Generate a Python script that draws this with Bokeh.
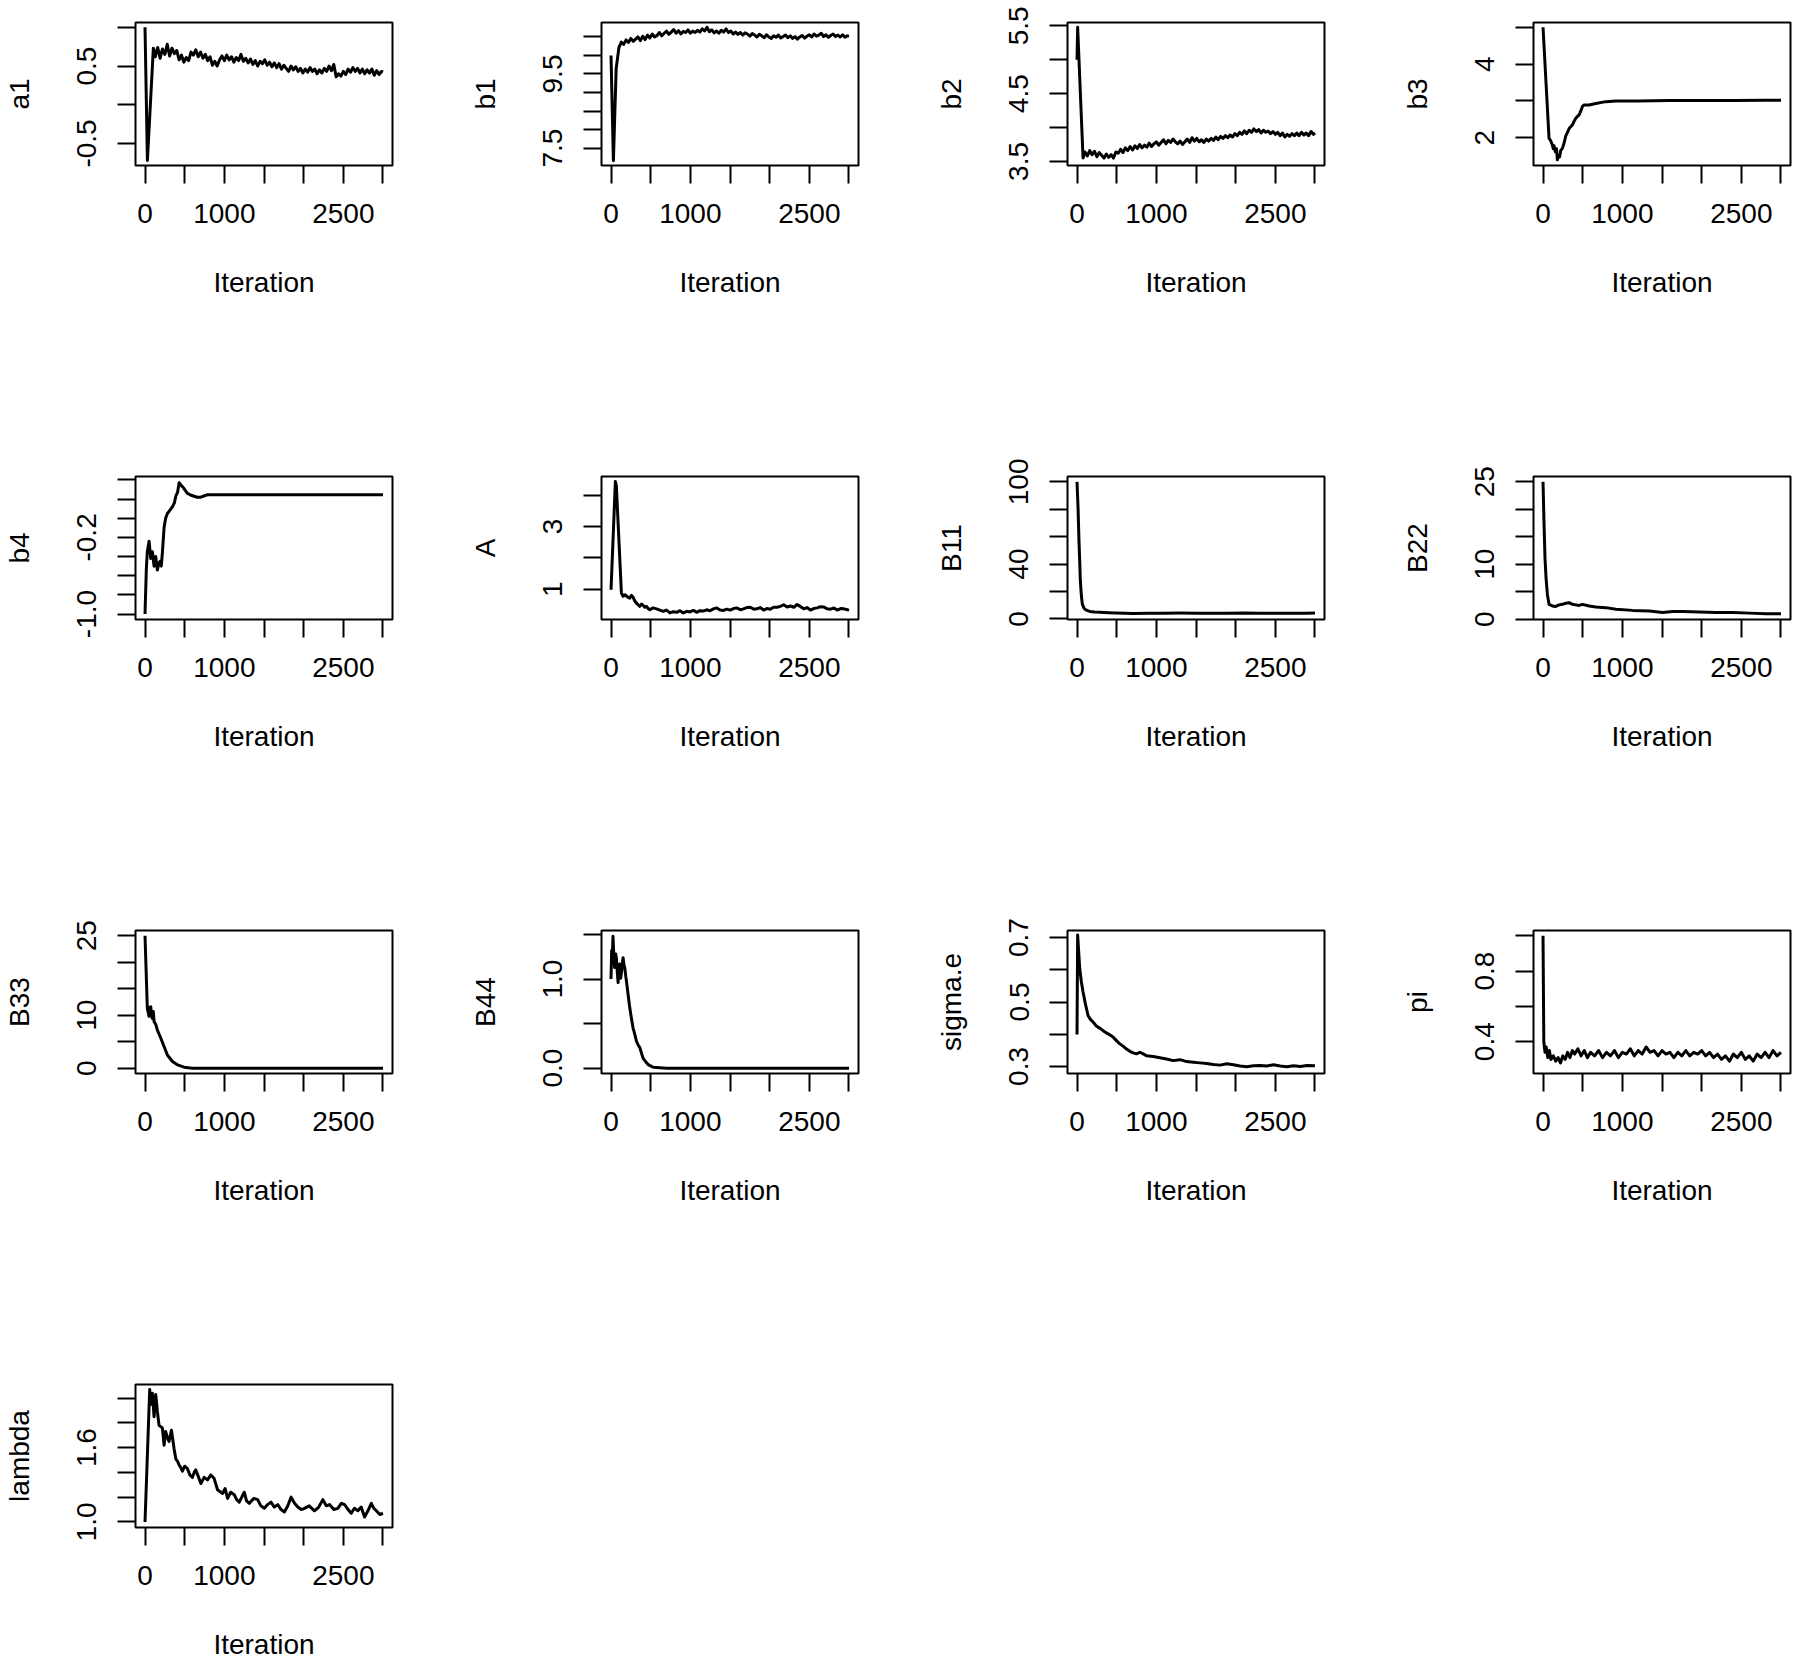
from bokeh.plotting import figure
from bokeh.layouts import column, row
from bokeh.models import Range1d, FixedTicker
from bokeh.embed import file_html
from bokeh.resources import INLINE

# ---------------- data ----------------
x_ticks = [0, 500, 1000, 1500, 2000, 2500, 3000]
x_tick_labels = ["0", "", "1000", "", "", "2500", ""]

# dense part of the noisy chains is sampled every 30 iterations
a1_iter = [0, 30, 105] + list(range(130, 2981, 30)) + [3000]
a1_val = [1.00, -0.72, 0.73,
          0.62, 0.74, 0.60, 0.72, 0.65, 0.78, 0.63, 0.73, 0.66, 0.70,
          0.58, 0.64, 0.55, 0.61, 0.57, 0.68, 0.64, 0.71, 0.62, 0.68,
          0.60, 0.65, 0.57, 0.62, 0.51, 0.56, 0.50, 0.58, 0.63, 0.57,
          0.64, 0.58, 0.62, 0.55, 0.61, 0.57, 0.65, 0.56, 0.60, 0.54,
          0.59, 0.52, 0.57, 0.50, 0.56, 0.53, 0.58, 0.51, 0.55, 0.49,
          0.54, 0.48, 0.53, 0.46, 0.51, 0.47, 0.43, 0.50, 0.45, 0.49,
          0.43, 0.47, 0.41, 0.46, 0.42, 0.48, 0.43, 0.46, 0.40, 0.45,
          0.41, 0.47, 0.43, 0.50, 0.44, 0.52, 0.36, 0.40, 0.37, 0.43,
          0.39, 0.46, 0.42, 0.48, 0.43, 0.47, 0.41, 0.46, 0.40, 0.45,
          0.41, 0.46, 0.38, 0.44, 0.39, 0.43,
          0.42]
a1_range = (-0.785, 1.062)
a1_ticks = [-0.5, 0.0, 0.5, 1.0]
a1_tick_labels = ["-0.5", "", "0.5", ""]

b1_iter = [0, 30, 65] + list(range(100, 2981, 30)) + [3000]
b1_val = [10.0, 7.16, 9.65,
          10.22, 10.36, 10.30, 10.42, 10.35, 10.46, 10.38, 10.44, 10.50, 10.40,
          10.52, 10.43, 10.55, 10.47, 10.58, 10.50, 10.54, 10.62, 10.53, 10.60,
          10.66, 10.57, 10.63, 10.70, 10.60, 10.67, 10.58, 10.65, 10.62, 10.69,
          10.60, 10.66, 10.62, 10.68, 10.63, 10.72, 10.66, 10.76, 10.64, 10.69,
          10.61, 10.66, 10.60, 10.68, 10.63, 10.72, 10.62, 10.66, 10.58, 10.63,
          10.57, 10.62, 10.55, 10.61, 10.58, 10.52, 10.59, 10.55, 10.50, 10.57,
          10.53, 10.48, 10.56, 10.50, 10.46, 10.53, 10.49, 10.55, 10.47, 10.51,
          10.55, 10.48, 10.53, 10.46, 10.51, 10.44, 10.50, 10.54, 10.47, 10.52,
          10.56, 10.50, 10.58, 10.52, 10.55, 10.60, 10.51, 10.56, 10.49, 10.54,
          10.58, 10.51, 10.55, 10.50, 10.56, 10.49, 10.53,
          10.52]
b1_range = (7.03, 10.89)
b1_ticks = [7.5, 8.0, 8.5, 9.0, 9.5, 10.0, 10.5]
b1_tick_labels = ["7.5", "", "", "", "9.5", "", ""]

b2_iter = [0, 8, 76] + list(range(100, 2981, 30)) + [3000]
b2_val = [5.00, 5.48, 3.55,
          3.64, 3.58, 3.66, 3.60, 3.65, 3.57, 3.63, 3.59, 3.55, 3.61,
          3.56, 3.60, 3.55, 3.64, 3.62, 3.68, 3.63, 3.70, 3.66, 3.72,
          3.67, 3.73, 3.69, 3.75, 3.70, 3.74, 3.71, 3.77, 3.72, 3.76,
          3.79, 3.74, 3.78, 3.82, 3.76, 3.81, 3.78, 3.83, 3.79, 3.76,
          3.80, 3.75, 3.79, 3.83, 3.78, 3.85, 3.80, 3.84, 3.79, 3.82,
          3.78, 3.83, 3.80, 3.84, 3.81, 3.86, 3.82, 3.87, 3.84, 3.88,
          3.85, 3.89, 3.86, 3.91, 3.88, 3.93, 3.90, 3.95, 3.91, 3.96,
          3.93, 3.98, 3.94, 3.97, 3.92, 3.96, 3.93, 3.95, 3.91, 3.94,
          3.90, 3.93, 3.88, 3.92, 3.86, 3.90, 3.87, 3.91, 3.88, 3.92,
          3.88, 3.93, 3.89, 3.92, 3.88, 3.94, 3.90,
          3.92]
b2_range = (3.44, 5.55)
b2_ticks = [3.5, 4.0, 4.5, 5.0, 5.5]
b2_tick_labels = ["3.5", "", "4.5", "", "5.5"]

b3_iter = [0, 76, 97, 118, 130, 139, 155, 170, 181, 195,
           210, 223, 244, 265, 287, 310, 329, 350, 371, 392,
           413, 435, 455, 475, 497, 518, 581, 666, 792, 919,
           1200, 1600, 2000, 2400, 2800, 3000]
b3_val = [5.0, 1.98, 1.92, 1.80, 1.70, 1.78, 1.62, 1.70, 1.40, 1.52,
          1.48, 1.65, 1.71, 1.85, 2.05, 2.15, 2.25, 2.30, 2.35, 2.45,
          2.53, 2.58, 2.62, 2.72, 2.85, 2.89, 2.89, 2.93, 2.98, 3.00,
          3.00, 3.01, 3.01, 3.01, 3.02, 3.02]
b3_range = (1.245, 5.13)
b3_ticks = [2, 3, 4, 5]
b3_tick_labels = ["2", "", "4", ""]

b4_iter = [0, 17, 29, 51, 72, 93, 114, 135, 156, 175,
           190, 205, 219, 240, 260, 282, 310, 346, 370, 388,
           410, 430, 450, 472, 500, 535, 580, 619, 660, 704,
           750, 788, 900, 1125, 1500, 2000, 2500, 3000]
b4_val = [-1.00, -0.52, -0.35, -0.24, -0.42, -0.35, -0.50, -0.40, -0.54, -0.47,
          -0.45, -0.50, -0.36, -0.10, 0.00, 0.05, 0.08, 0.12, 0.16, 0.23,
          0.27, 0.37, 0.35, 0.33, 0.30, 0.26, 0.24, 0.23, 0.22, 0.22,
          0.235, 0.245, 0.245, 0.245, 0.245, 0.245, 0.245, 0.245]
b4_range = (-1.057, 0.436)
b4_ticks = [-1.0, -0.8, -0.6, -0.4, -0.2, 0.0, 0.2, 0.4]
b4_tick_labels = ["-1.0", "", "", "", "-0.2", "", "", ""]

A_iter = [0, 55, 67, 131, 152, 175, 194, 215, 236, 258,
          278, 300, 321, 342, 363, 385, 405, 425, 447, 468,
          489, 530, 574, 615, 658, 700, 743, 785, 827, 870,
          911, 955, 996, 1040, 1080, 1120, 1164, 1205, 1249, 1290,
          1333, 1375, 1418, 1460, 1502, 1545, 1586, 1630, 1670, 1712,
          1755, 1800, 1839, 1880, 1924, 1965, 2008, 2050, 2092, 2135,
          2177, 2220, 2261, 2305, 2346, 2390, 2430, 2470, 2514, 2555,
          2599, 2640, 2683, 2725, 2768, 2810, 2852, 2895, 2936, 2970,
          3000]
A_val = [0.98, 4.43, 4.30, 0.87, 0.77, 0.82, 0.78, 0.74, 0.71, 0.80,
         0.74, 0.62, 0.55, 0.50, 0.45, 0.52, 0.48, 0.42, 0.45, 0.38,
         0.34, 0.40, 0.37, 0.33, 0.29, 0.33, 0.24, 0.28, 0.26, 0.31,
         0.24, 0.29, 0.27, 0.32, 0.26, 0.31, 0.30, 0.34, 0.31, 0.37,
         0.40, 0.33, 0.32, 0.36, 0.33, 0.38, 0.40, 0.34, 0.37, 0.41,
         0.42, 0.36, 0.37, 0.41, 0.33, 0.38, 0.36, 0.42, 0.42, 0.45,
         0.50, 0.43, 0.46, 0.42, 0.51, 0.44, 0.37, 0.41, 0.33, 0.38,
         0.40, 0.44, 0.43, 0.37, 0.36, 0.40, 0.33, 0.38, 0.37, 0.35,
         0.32]
A_range = (0.03, 4.59)
A_ticks = [1, 2, 3, 4]
A_tick_labels = ["1", "", "3", ""]

B11_iter = [0, 13, 25, 34, 42, 55, 67, 84, 97, 125,
            160, 220, 287, 400, 497, 600, 708, 900, 1100, 1300,
            1500, 1700, 1900, 2100, 2300, 2500, 2700, 2900, 3000]
B11_val = [100, 80.7, 56.6, 42.0, 27.7, 16.9, 10.8, 8.4, 7.2, 6.2,
           5.5, 5.0, 4.8, 4.5, 4.3, 4.1, 4.0, 4.1, 4.2, 4.3,
           4.2, 4.2, 4.1, 4.3, 4.2, 4.1, 4.2, 4.2, 4.3]
B11_range = (-0.4, 103.9)
B11_ticks = [0, 20, 40, 60, 80, 100]
B11_tick_labels = ["0", "", "40", "", "", "100"]

B22_iter = [0, 13, 25, 38, 55, 76, 118, 160, 202, 244,
            287, 329, 371, 413, 455, 497, 581, 666, 792, 919,
            1129, 1340, 1508, 1635, 1761, 1972, 2183, 2393, 2604, 2815,
            3000]
B22_val = [25.0, 17.2, 11.1, 7.5, 4.5, 2.7, 2.4, 2.3, 2.6, 2.7,
           2.9, 3.0, 2.7, 2.6, 2.5, 2.7, 2.4, 2.2, 2.1, 1.8,
           1.6, 1.5, 1.2, 1.4, 1.4, 1.3, 1.2, 1.2, 1.1, 1.0,
           1.0]
B22_range = (-0.06, 25.96)
B22_ticks = [0, 5, 10, 15, 20, 25]
B22_tick_labels = ["0", "", "10", "", "", "25"]

B33_iter = [0, 29, 42, 51, 63, 72, 84, 93, 105, 114,
            135, 156, 198, 240, 282, 346, 409, 493, 598, 1000,
            2000, 3000]
B33_val = [25.0, 11.3, 10.4, 9.8, 11.5, 11.6, 9.8, 9.4, 10.7, 8.8,
           8.3, 7.2, 5.7, 4.1, 2.5, 1.26, 0.63, 0.19, 0.0, 0.0,
           0.0, 0.0]
B33_range = (-1.0, 26.0)
B33_ticks = [0, 5, 10, 15, 20, 25]
B33_tick_labels = ["0", "", "10", "", "", "25"]

B44_iter = [0, 8, 17, 25, 38, 46, 59, 67, 80, 89,
            101, 110, 122, 131, 143, 152, 165, 173, 186, 194,
            215, 236, 257, 278, 300, 321, 342, 363, 384, 405,
            439, 468, 532, 700, 1500, 3000]
B44_val = [1.00, 1.32, 1.26, 1.48, 1.20, 1.13, 1.28, 1.24, 1.07, 0.96,
           1.13, 1.17, 1.01, 1.07, 1.18, 1.24, 1.15, 1.13, 1.03, 0.98,
           0.83, 0.68, 0.56, 0.45, 0.38, 0.30, 0.26, 0.23, 0.17, 0.11,
           0.07, 0.04, 0.01, 0.0, 0.0, 0.0]
B44_range = (-0.06, 1.545)
B44_ticks = [0.0, 0.5, 1.0, 1.5]
B44_tick_labels = ["0.0", "", "1.0", ""]

sig_iter = [0, 8, 21, 34, 55, 76, 105, 139, 169, 202,
            244, 287, 329, 371, 413, 455, 497, 539, 581, 624,
            666, 708, 750, 792, 834, 876, 961, 1045, 1129, 1213,
            1298, 1382, 1466, 1551, 1635, 1719, 1803, 1888, 1972, 2056,
            2140, 2225, 2309, 2393, 2477, 2562, 2646, 2730, 2815, 2899,
            3000]
sig_val = [0.399, 0.708, 0.656, 0.604, 0.562, 0.531, 0.495, 0.458, 0.446, 0.438,
           0.425, 0.419, 0.411, 0.404, 0.398, 0.391, 0.380, 0.370, 0.363, 0.354,
           0.347, 0.342, 0.339, 0.344, 0.339, 0.333, 0.331, 0.327, 0.323, 0.318,
           0.321, 0.315, 0.313, 0.311, 0.309, 0.306, 0.304, 0.308, 0.305, 0.301,
           0.299, 0.302, 0.303, 0.301, 0.305, 0.301, 0.299, 0.302, 0.300, 0.303,
           0.302]
sig_range = (0.278, 0.722)
sig_ticks = [0.3, 0.4, 0.5, 0.6, 0.7]
sig_tick_labels = ["0.3", "", "0.5", "", "0.7"]

pi_iter = [0, 10, 25, 40, 60, 80, 100, 130, 160, 190,
           220, 250, 280, 310, 340, 370, 400, 440, 480, 520,
           560, 600, 650, 700, 750, 800, 850, 900, 950, 1000,
           1050, 1100, 1150, 1200, 1250, 1300, 1350, 1400, 1450, 1500,
           1550, 1600, 1650, 1700, 1750, 1800, 1850, 1900, 1950, 2000,
           2050, 2100, 2150, 2200, 2250, 2300, 2350, 2400, 2450, 2500,
           2550, 2600, 2650, 2700, 2750, 2800, 2850, 2900, 2950, 3000]
pi_val = [1.00, 0.40, 0.34, 0.37, 0.31, 0.35, 0.30, 0.32, 0.29, 0.31,
          0.28, 0.32, 0.30, 0.34, 0.31, 0.35, 0.33, 0.36, 0.32, 0.35,
          0.31, 0.34, 0.32, 0.35, 0.31, 0.34, 0.32, 0.35, 0.31, 0.34,
          0.33, 0.36, 0.32, 0.35, 0.33, 0.37, 0.34, 0.35, 0.32, 0.35,
          0.33, 0.34, 0.31, 0.34, 0.32, 0.35, 0.32, 0.34, 0.33, 0.35,
          0.32, 0.34, 0.31, 0.33, 0.30, 0.32, 0.29, 0.33, 0.31, 0.34,
          0.30, 0.32, 0.29, 0.33, 0.31, 0.34, 0.31, 0.35, 0.32, 0.34]
pi_range = (0.22, 1.03)
pi_ticks = [0.4, 0.6, 0.8, 1.0]
pi_tick_labels = ["0.4", "", "0.8", ""]

lam_iter = [0, 59, 72, 93, 114, 135, 156, 177, 198, 219,
            240, 261, 282, 303, 333, 367, 388, 410, 430, 450,
            472, 500, 535, 565, 598, 620, 640, 670, 704, 745,
            788, 830, 872, 914, 978, 1010, 1041, 1080, 1125, 1155,
            1188, 1220, 1251, 1280, 1315, 1370, 1420, 1460, 1504, 1545,
            1588, 1630, 1673, 1715, 1757, 1800, 1841, 1885, 1926, 1970,
            2010, 2070, 2136, 2190, 2242, 2285, 2326, 2380, 2431, 2475,
            2516, 2560, 2600, 2640, 2684, 2725, 2768, 2810, 2853, 2885,
            2916, 2960, 3000]
lam_val = [1.00, 2.07, 1.95, 2.04, 1.85, 2.03, 1.89, 1.78, 1.77, 1.76,
           1.62, 1.73, 1.68, 1.65, 1.74, 1.59, 1.51, 1.49, 1.46, 1.44,
           1.41, 1.45, 1.43, 1.38, 1.36, 1.40, 1.42, 1.37, 1.31, 1.36,
           1.34, 1.38, 1.35, 1.26, 1.23, 1.27, 1.19, 1.24, 1.22, 1.18,
           1.16, 1.20, 1.24, 1.17, 1.15, 1.19, 1.18, 1.13, 1.11, 1.14,
           1.16, 1.12, 1.14, 1.10, 1.08, 1.13, 1.20, 1.15, 1.12, 1.10,
           1.11, 1.13, 1.09, 1.12, 1.18, 1.13, 1.14, 1.10, 1.11, 1.15,
           1.14, 1.10, 1.07, 1.11, 1.09, 1.12, 1.04, 1.09, 1.15, 1.11,
           1.09, 1.06, 1.07]
lam_range = (0.955, 2.11)
lam_ticks = [1.0, 1.2, 1.4, 1.6, 1.8, 2.0]
lam_tick_labels = ["1.0", "", "", "1.6", "", ""]

panels = [
    ("a1", a1_iter, a1_val, a1_range, a1_ticks, a1_tick_labels),
    ("b1", b1_iter, b1_val, b1_range, b1_ticks, b1_tick_labels),
    ("b2", b2_iter, b2_val, b2_range, b2_ticks, b2_tick_labels),
    ("b3", b3_iter, b3_val, b3_range, b3_ticks, b3_tick_labels),
    ("b4", b4_iter, b4_val, b4_range, b4_ticks, b4_tick_labels),
    ("A", A_iter, A_val, A_range, A_ticks, A_tick_labels),
    ("B11", B11_iter, B11_val, B11_range, B11_ticks, B11_tick_labels),
    ("B22", B22_iter, B22_val, B22_range, B22_ticks, B22_tick_labels),
    ("B33", B33_iter, B33_val, B33_range, B33_ticks, B33_tick_labels),
    ("B44", B44_iter, B44_val, B44_range, B44_ticks, B44_tick_labels),
    ("sigma.e", sig_iter, sig_val, sig_range, sig_ticks, sig_tick_labels),
    ("pi", pi_iter, pi_val, pi_range, pi_ticks, pi_tick_labels),
    ("lambda", lam_iter, lam_val, lam_range, lam_ticks, lam_tick_labels),
]

for nm, xs, ys, *_ in panels:
    assert len(xs) == len(ys), (nm, len(xs), len(ys))

# ---------------- layout / style ----------------
FONT = "Liberation Sans"
FSIZE = "28px"
CELL_W, CELL_H = 466, 454
LEFT, TOP, FW, FH = 135, 22, 257, 143
PAGE_H = 1661


def style_axis(ax):
    ax.axis_line_color = None
    ax.major_tick_out = 18
    ax.major_tick_in = 0
    ax.major_tick_line_width = 2
    ax.major_tick_line_color = "black"
    ax.minor_tick_line_color = None
    ax.major_label_text_font = FONT
    ax.major_label_text_font_size = FSIZE
    ax.major_label_text_color = "black"
    ax.major_label_text_line_height = 1.0
    ax.axis_label_text_font = FONT
    ax.axis_label_text_font_size = FSIZE
    ax.axis_label_text_font_style = "normal"
    ax.axis_label_text_color = "black"
    ax.axis_label_text_line_height = 1.0


def make_panel(idx, name, xs, ys, yr, yt, ytl):
    r, c = divmod(idx, 4)
    right = 8 if c == 3 else CELL_W - LEFT - FW
    bottom = (PAGE_H - 3 * CELL_H - TOP - FH) if r == 3 else CELL_H - TOP - FH
    p = figure(width=LEFT + FW + right, height=TOP + FH + bottom,
               frame_width=FW, frame_height=FH,
               x_range=Range1d(-120, 3120), y_range=Range1d(*yr),
               output_backend="svg", toolbar_location=None,
               min_border_left=LEFT, min_border_right=right,
               min_border_top=TOP, min_border_bottom=bottom)
    p.line(xs, ys, line_color="black", line_width=3.0, line_join="round")
    p.xgrid.grid_line_color = None
    p.ygrid.grid_line_color = None
    p.outline_line_color = "black"
    p.outline_line_width = 2
    p.outline_line_alpha = 1
    p.background_fill_color = "white"
    p.border_fill_color = "white"

    xa = p.xaxis[0]
    style_axis(xa)
    xa.ticker = FixedTicker(ticks=x_ticks)
    xa.major_label_overrides = dict(zip(x_ticks, x_tick_labels))
    xa.axis_label = "Iteration"
    xa.major_label_standoff = 20
    xa.axis_label_standoff = 41

    ya = p.yaxis[0]
    style_axis(ya)
    ya.ticker = FixedTicker(ticks=yt)
    ya.major_label_overrides = dict(zip(yt, ytl))
    ya.major_label_orientation = "parallel"
    ya.axis_label = name
    ya.major_label_standoff = 21
    ya.axis_label_standoff = 40
    return p


figs = [make_panel(i, *pn) for i, pn in enumerate(panels)]
rows = [row(figs[0:4], spacing=0), row(figs[4:8], spacing=0),
        row(figs[8:12], spacing=0), row([figs[12]], spacing=0)]
layout = column(rows, spacing=0)

open("out.html", "w").write(file_html(layout, INLINE))
